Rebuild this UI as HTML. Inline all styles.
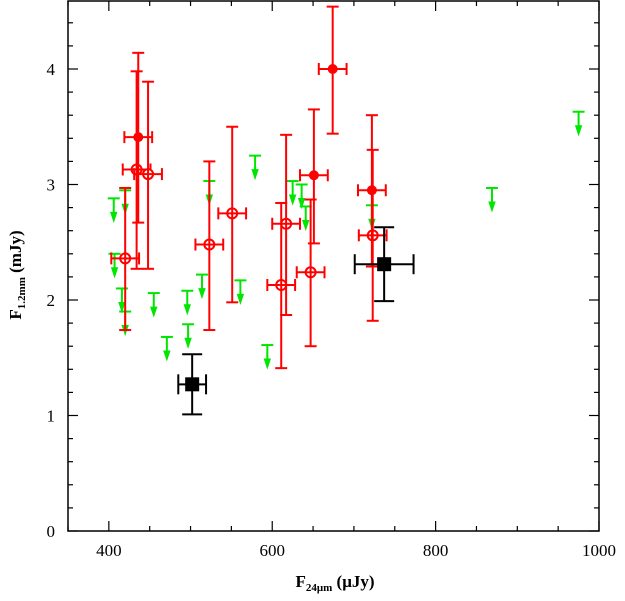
<!DOCTYPE html>
<html><head><meta charset="utf-8"><style>
body{margin:0;background:#fff;}
svg{display:block;font-family:"Liberation Serif",serif;}
</style></head><body>
<svg id="chart" width="625" height="601"></svg>
<script>
const filledX=[436,674,651,722], filledY=[3.41,4.00,3.08,2.95], filledHi=[4.14,4.54,3.65,3.60], filledLo=[2.67,3.44,2.49,2.29];
const openX=[434,448,420,523,551,617,611,647,723], openY=[3.13,3.09,2.36,2.48,2.75,2.66,2.13,2.24,2.56], openHi=[3.98,3.89,2.97,3.20,3.50,3.43,2.84,2.87,3.30], openLo=[2.27,2.27,1.74,1.74,1.98,1.87,1.41,1.60,1.82];
const redXErr=17;
const blackX=[502,737], blackY=[1.27,2.31], blackHi=[1.53,2.63], blackLo=[1.01,1.99], blackXErr=[17,36];
const limX=[406,420,407,416,420,455,496,497,471,514,523,561,579,594,625,636,641,722,869,975];
const limY=[2.88,2.95,2.40,2.10,1.90,2.06,2.08,1.79,1.68,2.22,3.03,2.17,3.25,1.61,3.03,3.00,2.81,2.82,2.97,3.63];
const xTicks=[400,600,800,1000], yTicks=[0,1,2,3,4];
const L=68,R=599,T=1,B=531;
const sx=v=>L+(v-350)*(R-L)/650, sy=v=>B-v*115.5;
const svg=document.getElementById('chart');const NS='http://www.w3.org/2000/svg';
function mk(t,a,p){const e=document.createElementNS(NS,t);for(const k in a)e.setAttribute(k,a[k]);(p||svg).appendChild(e);return e;}
function ln(x1,y1,x2,y2,c,w,p){return mk('line',{x1,y1,x2,y2,stroke:c,'stroke-width':w},p);}
const fr=mk('rect',{x:L,y:T,width:R-L,height:B-T,fill:'none',stroke:'#000','stroke-width':1.5});

const ax=mk('g',{});
for(let v=350;v<=1000;v+=50){const X=sx(v),len=(v%200===0)?10:5;ln(X,B,X,B-len,'#000',1.2,ax);ln(X,T,X,T+len,'#000',1.2,ax);}
for(let v=0;v<=4.6;v+=0.2){const Y=sy(v),len=(Math.abs(v-Math.round(v))<1e-6)?10:5;ln(L,Y,L+len,Y,'#000',1.2,ax);ln(R,Y,R-len,Y,'#000',1.2,ax);}
xTicks.forEach(v=>{const t=mk('text',{x:sx(v),y:556,'text-anchor':'middle','font-size':17},ax);t.textContent=v;});
yTicks.forEach(v=>{const t=mk('text',{x:55,y:sy(v)+6,'text-anchor':'end','font-size':17},ax);t.textContent=v;});
const xt=mk('text',{x:335,y:587,'text-anchor':'middle','font-size':17,'font-weight':'bold'});xt.innerHTML='F<tspan font-size="11" dy="4">24μm</tspan><tspan dy="-4"> (μJy)</tspan>';

const yt=mk('text',{x:0,y:0,'text-anchor':'middle','font-size':17,'font-weight':'bold',transform:'translate(21,275) rotate(-90)'});yt.innerHTML='F<tspan font-size="11" dy="4">1.2mm</tspan><tspan dy="-4"> (mJy)</tspan>';

limX.forEach((x,i)=>{const g=mk('g',{stroke:'#00e600','stroke-width':2,fill:'#00e600'});

const X=sx(x),Y=sy(limY[i]);ln(X-6,Y,X+6,Y,'#00e600',2,g);ln(X,Y,X,Y+16,'#00e600',2,g);
mk('polygon',{points:`${X-3},${Y+14} ${X+3},${Y+14} ${X},${Y+23}`,'stroke-width':1},g);});
function errPt(x,y,hi,lo,xe,col,w,cap,name){const g=mk('g',{});
const X=sx(x),Y=sy(y),Yh=sy(hi),Yl=sy(lo),X1=sx(x-xe),X2=sx(x+xe);
ln(X,Yh,X,Yl,col,w,g);ln(X-cap,Yh,X+cap,Yh,col,w,g);ln(X-cap,Yl,X+cap,Yl,col,w,g);
ln(X1,Y,X2,Y,col,w,g);ln(X1,Y-cap,X1,Y+cap,col,w,g);ln(X2,Y-cap,X2,Y+cap,col,w,g);return [g,X,Y];}
openX.forEach((x,i)=>{const [g,X,Y]=errPt(x,openY[i],openHi[i],openLo[i],redXErr,'#f00',2,6,'open-point');
mk('circle',{cx:X,cy:Y,r:5,fill:'#fff',stroke:'#f00','stroke-width':2},g);ln(X-5,Y,X+5,Y,'#f00',2,g);ln(X,Y-5,X,Y+5,'#f00',2,g);});
filledX.forEach((x,i)=>{const [g,X,Y]=errPt(x,filledY[i],filledHi[i],filledLo[i],redXErr,'#f00',2,6,'filled-point');
mk('circle',{cx:X,cy:Y,r:5,fill:'#f00'},g);});
blackX.forEach((x,i)=>{const [g,X,Y]=errPt(x,blackY[i],blackHi[i],blackLo[i],blackXErr[i],'#000',2,10,'stacked-point');
mk('rect',{x:X-7,y:Y-7,width:14,height:14,fill:'#000'},g);});
</script>
</body></html>
